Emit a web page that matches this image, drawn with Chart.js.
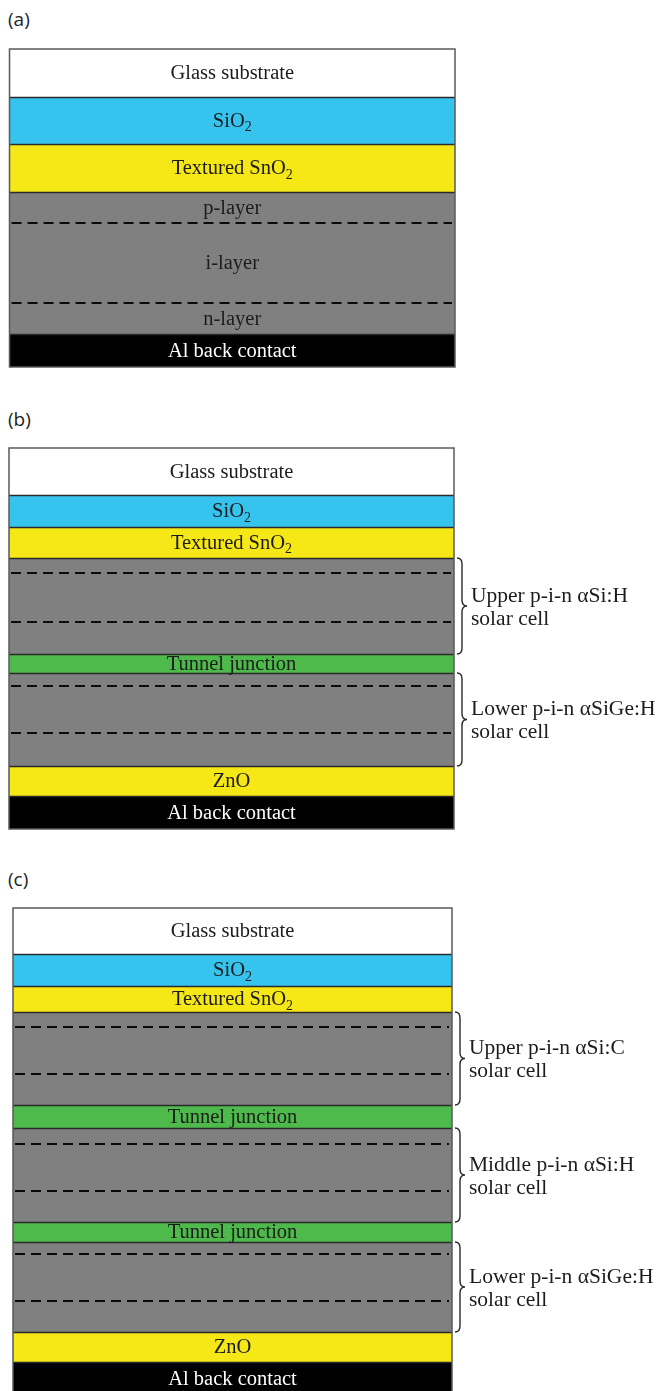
<!DOCTYPE html>
<html>
<head>
<meta charset="utf-8">
<script src="https://cdn.jsdelivr.net/npm/chart.js@4.4.1/dist/chart.umd.min.js"></script>
<style>
  html, body { margin: 0; padding: 0; background: #fff; overflow: hidden; }
  body { width: 657px; height: 1391px; position: relative; }
  .panel { position: absolute; left: 0; width: 657px; }
  .tag { position: absolute; left: 8px; font: 19px "Open Sans", sans-serif; color: #222; }
</style>
</head>
<body>
<div class="tag" style="top:6px">(a)</div>
<div class="tag" style="top:406px">(b)</div>
<div class="tag" style="top:866px">(c)</div>
<div class="panel" style="top:0px"><canvas id="chartA" width="657" height="400"></canvas></div>
<div class="panel" style="top:400px"><canvas id="chartB" width="657" height="440"></canvas></div>
<div class="panel" style="top:840px"><canvas id="chartC" width="657" height="560"></canvas></div>
<script>
// layer stacks, top to bottom (thickness in drawing units)
const aLayers = ['Glass substrate', 'SiO_2', 'Textured SnO_2', 'p-layer', 'i-layer', 'n-layer', 'Al back contact'];
const aKinds  = ['glass', 'sio2', 'sno2', 'p', 'i', 'n', 'al'];
const aThick  = [48, 47, 48, 31, 80, 31, 33];
const aCells  = [];

const bLayers = ['Glass substrate', 'SiO_2', 'Textured SnO_2', '', '', '', 'Tunnel junction', '', '', '', 'ZnO', 'Al back contact'];
const bKinds  = ['glass', 'sio2', 'sno2', 'p', 'i', 'n', 'tunnel', 'p', 'i', 'n', 'zno', 'al'];
const bThick  = [47, 32, 31, 15, 49, 32, 19, 13, 47, 33, 30, 33];
const bCells  = ['Upper p-i-n αSi:H', 'Lower p-i-n αSiGe:H'];

const cLayers = ['Glass substrate', 'SiO_2', 'Textured SnO_2', '', '', '', 'Tunnel junction', '', '', '', 'Tunnel junction', '', '', '', 'ZnO', 'Al back contact'];
const cKinds  = ['glass', 'sio2', 'sno2', 'p', 'i', 'n', 'tunnel', 'p', 'i', 'n', 'tunnel', 'p', 'i', 'n', 'zno', 'al'];
const cThick  = [46, 32, 26, 15, 47, 31, 23, 16, 47, 31, 20, 12, 47, 31, 30, 33];
const cCells  = ['Upper p-i-n αSi:C', 'Middle p-i-n αSi:H', 'Lower p-i-n αSiGe:H'];

const kindColor = {
  glass: '#ffffff', sio2: '#36c4ef', sno2: '#f6e716', p: '#808080', i: '#808080', n: '#808080',
  tunnel: '#4dba4b', zno: '#f6e716', al: '#000000'
};
const gray = k => k === 'p' || k === 'i' || k === 'n';

// text with "_x" subscript, centred on cx
function drawLabel(ctx, text, cx, cy, color) {
  const parts = text.split('_');
  ctx.font = '20.5px "Liberation Serif", "Times New Roman", serif';
  const w1 = ctx.measureText(parts[0]).width;
  ctx.font = '14px "Liberation Serif", "Times New Roman", serif';
  const w2 = parts[1] ? ctx.measureText(parts[1]).width : 0;
  const x0 = cx - (w1 + w2) / 2;
  ctx.fillStyle = color;
  ctx.textAlign = 'left';
  ctx.textBaseline = 'middle';
  ctx.font = '20.5px "Liberation Serif", "Times New Roman", serif';
  ctx.fillText(parts[0], x0, cy);
  if (parts[1]) {
    ctx.font = '14px "Liberation Serif", "Times New Roman", serif';
    ctx.fillText(parts[1], x0 + w1, cy + 6);
  }
}

function drawBrace(ctx, x, top, bot) {
  const mid = (top + bot) / 2, r = 6, xm = x + 5, xt = x + 10;
  ctx.beginPath();
  ctx.moveTo(x, top);
  ctx.quadraticCurveTo(xm, top, xm, top + r);
  ctx.lineTo(xm, mid - r);
  ctx.quadraticCurveTo(xm, mid, xt, mid);
  ctx.quadraticCurveTo(xm, mid, xm, mid + r);
  ctx.lineTo(xm, bot - r);
  ctx.quadraticCurveTo(xm, bot, x, bot);
  ctx.strokeStyle = '#2a2a2a';
  ctx.lineWidth = 1.4;
  ctx.setLineDash([]);
  ctx.stroke();
}

const stackPlugin = {
  id: 'stackDecor',
  afterDatasetsDraw(chart, args, opts) {
    const ctx = chart.ctx, area = chart.chartArea, y = chart.scales.y;
    const kinds = opts.kinds, names = opts.names, thick = opts.thick;
    ctx.save();
    // boundaries
    let acc = 0;
    for (let i = 0; i < thick.length - 1; i++) {
      acc += thick[i];
      ctx.beginPath();
      if (gray(kinds[i]) && gray(kinds[i + 1])) {
        const py = Math.round(y.getPixelForValue(acc));
        ctx.setLineDash([10, 6]);
        ctx.lineDashOffset = -2;
        ctx.strokeStyle = '#0a0a0a';
        ctx.lineWidth = 2.2;
        ctx.moveTo(area.left, py);
        ctx.lineTo(area.right - 3, py);
      } else {
        const py = Math.round(y.getPixelForValue(acc)) + 0.5;
        ctx.setLineDash([]);
        ctx.strokeStyle = '#2a2a2a';
        ctx.lineWidth = 1.5;
        ctx.moveTo(area.left, py);
        ctx.lineTo(area.right, py);
      }
      ctx.stroke();
    }
    // outline
    ctx.setLineDash([]);
    ctx.strokeStyle = '#5a5a5a';
    ctx.lineWidth = 1.5;
    ctx.strokeRect(area.left, area.top, area.right - area.left, area.bottom - area.top);
    // layer labels
    const cx = (area.left + area.right) / 2;
    names.forEach((n, i) => {
      if (!n) return;
      const el = chart.getDatasetMeta(i).data[0];
      const cy = (el.y + el.base) / 2 + 1;
      drawLabel(ctx, n, cx, cy, kinds[i] === 'al' ? '#ffffff' : '#1c1c1c');
    });
    // braces around each p-i-n cell
    let cell = 0;
    kinds.forEach((k, i) => {
      if (k !== 'p' || !opts.cells[cell]) return;
      const top = chart.getDatasetMeta(i).data[0].base;
      const bot = chart.getDatasetMeta(i + 2).data[0].y;
      drawBrace(ctx, area.right + 3, top, bot);
      const mid = (top + bot) / 2;
      ctx.fillStyle = '#1c1c1c';
      ctx.textAlign = 'left';
      ctx.textBaseline = 'middle';
      ctx.font = '21.5px "Liberation Serif", "Times New Roman", serif';
      ctx.fillText(opts.cells[cell], area.right + 17, mid - 10);
      ctx.fillText('solar cell', area.right + 17, mid + 13);
      cell++;
    });
    ctx.restore();
  }
};

function makeStack(id, names, kinds, thick, cells, pad) {
  const total = thick.reduce((s, v) => s + v, 0);
  return new Chart(document.getElementById(id), {
    type: 'bar',
    data: {
      labels: ['stack'],
      datasets: names.map((n, i) => ({
        label: n || kinds[i],
        data: [thick[i]],
        backgroundColor: kindColor[kinds[i]],
        borderWidth: 0,
        stack: 's'
      }))
    },
    options: {
      responsive: false,
      devicePixelRatio: 1,
      animation: false,
      events: [],
      layout: { padding: pad },
      datasets: { bar: { barPercentage: 1, categoryPercentage: 1 } },
      scales: {
        x: { stacked: true, display: false },
        y: { stacked: true, display: false, reverse: true, min: 0, max: total }
      },
      plugins: {
        legend: { display: false },
        tooltip: { enabled: false },
        stackDecor: { names: names, kinds: kinds, thick: thick, cells: cells }
      }
    },
    plugins: [stackPlugin]
  });
}

makeStack('chartA', aLayers, aKinds, aThick, aCells, { left: 9.5, right: 202, top: 49, bottom: 33 });
makeStack('chartB', bLayers, bKinds, bThick, bCells, { left: 9, right: 203, top: 48, bottom: 11 });
makeStack('chartC', cLayers, cKinds, cThick, cCells, { left: 13, right: 205, top: 68, bottom: 5 });
</script>
</body>
</html>
